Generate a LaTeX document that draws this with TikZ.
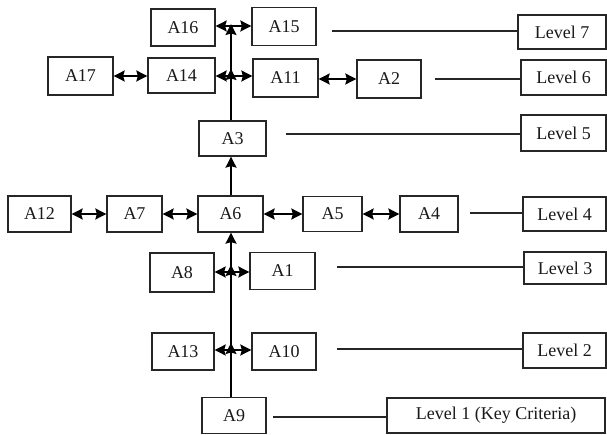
\documentclass[tikz,border=0pt]{standalone}
\usepackage{fontspec}
\setmainfont{Liberation Serif}
\usetikzlibrary{arrows.meta}
\begin{document}
\begin{tikzpicture}[x=1pt,y=-1pt,
  box/.style={draw=black!85, line width=1.3pt, fill=white, inner sep=0pt,
    text=black!90, font=\fontsize{18}{20}\selectfont},
  biarrow/.style={draw=black, line width=1.7pt, {Stealth[length=11pt,width=11pt,inset=1.5pt]}-{Stealth[length=11pt,width=11pt,inset=1.5pt]}},
  uparrow/.style={draw=black, line width=1.7pt, -{Stealth[length=11pt,width=11pt,inset=1.5pt]}},
  levline/.style={draw=black!85, line width=1.2pt}]
\useasboundingbox (0,0) rectangle (607,435);

% level 7
\node[box, minimum width=64pt, minimum height=37pt] (A16) at (183,27.5) {A16};
\node[box, minimum width=64pt, minimum height=38pt] (A15) at (284,26.5) {A15};
% level 6
\node[box, minimum width=65pt, minimum height=38pt] (A17) at (80.5,76) {A17};
\node[box, minimum width=67pt, minimum height=35pt] (A14) at (181.5,75.5) {A14};
\node[box, minimum width=65pt, minimum height=38pt] (A11) at (285.5,78) {A11};
\node[box, minimum width=64pt, minimum height=38pt] (A2) at (389,79) {A2};
% level 5
\node[box, minimum width=67pt, minimum height=35pt] (A3) at (232.5,138.5) {A3};
% level 4
\node[box, minimum width=63pt, minimum height=36pt] (A12) at (39.5,214) {A12};
\node[box, minimum width=55pt, minimum height=36pt] (A7) at (134.5,214) {A7};
\node[box, minimum width=65pt, minimum height=36pt] (A6) at (230.5,214) {A6};
\node[box, minimum width=59pt, minimum height=35pt] (A5) at (332.5,214) {A5};
\node[box, minimum width=58pt, minimum height=36pt] (A4) at (429,214) {A4};
% level 3
\node[box, minimum width=64pt, minimum height=39pt] (A8) at (182,272.5) {A8};
\node[box, minimum width=65pt, minimum height=37pt] (A1) at (282.5,271) {A1};
% level 2
\node[box, minimum width=62pt, minimum height=37pt] (A13) at (183,351.5) {A13};
\node[box, minimum width=64pt, minimum height=37pt] (A10) at (284,351.5) {A10};
% level 1
\node[box, minimum width=64pt, minimum height=36pt] (A9) at (234,415.5) {A9};

% level labels
\node[box, minimum width=88pt, minimum height=34pt] (L7) at (562,32) {Level 7};
\node[box, minimum width=85pt, minimum height=35pt] (L6) at (563.5,77.5) {Level 6};
\node[box, minimum width=85pt, minimum height=36pt] (L5) at (563.5,133) {Level 5};
\node[box, minimum width=83pt, minimum height=34pt] (L4) at (564.5,214) {Level 4};
\node[box, minimum width=82pt, minimum height=32pt] (L3) at (565,268) {Level 3};
\node[box, minimum width=83pt, minimum height=35pt] (L2) at (564.5,350.5) {Level 2};
\node[box, minimum width=218pt, minimum height=35pt] (L1) at (496,415.5) {Level 1 (Key Criteria)};

% junctions on the trunk
\coordinate (j2) at (231,350);
\coordinate (j3) at (231,272);
\coordinate (j6) at (231,76);
\coordinate (j7) at (231,26);

% trunk
\draw[uparrow] (A9.north -| j2) -- ([yshift=7pt]j2);
\draw[uparrow] (j2) -- ([yshift=7pt]j3);
\draw[uparrow] (j3) -- (A6.south -| j3);
\draw[uparrow] (A6.north -| j3) -- (A3.south -| j3);
\draw[uparrow] (A3.north -| j6) -- ([yshift=7pt]j6);
\draw[uparrow] (j6) -- ([yshift=2pt]j7);

% horizontal two-way arrows
\draw[biarrow] (A13.east |- j2) -- (A10.west |- j2);
\draw[biarrow] (A8.east |- j3) -- (A1.west |- j3);
\draw[biarrow] (A12) -- (A7);
\draw[biarrow] (A7) -- (A6);
\draw[biarrow] (A6) -- (A5);
\draw[biarrow] (A5) -- (A4);
\draw[biarrow] (A17) -- (A14.west |- A17);
\draw[biarrow] (A14.east |- j6) -- (A11.west |- j6);
\draw[biarrow] (A11.east |- A2) -- (A2);
\draw[biarrow] (A16.east |- j7) -- (A15.west |- j7);

% lines to level labels
\coordinate (s7) at (332,31);
\coordinate (s6) at (435,79);
\coordinate (s5) at (286,134);
\coordinate (s4) at (470,213);
\coordinate (s3) at (337,267);
\coordinate (s2) at (337,349);
\coordinate (s1) at (273,417);
\draw[levline] (s7) -- (s7 -| L7.west);
\draw[levline] (s6) -- (s6 -| L6.west);
\draw[levline] (s5) -- (s5 -| L5.west);
\draw[levline] (s4) -- (s4 -| L4.west);
\draw[levline] (s3) -- (s3 -| L3.west);
\draw[levline] (s2) -- (s2 -| L2.west);
\draw[levline] (s1) -- (s1 -| L1.west);
\end{tikzpicture}
\end{document}
